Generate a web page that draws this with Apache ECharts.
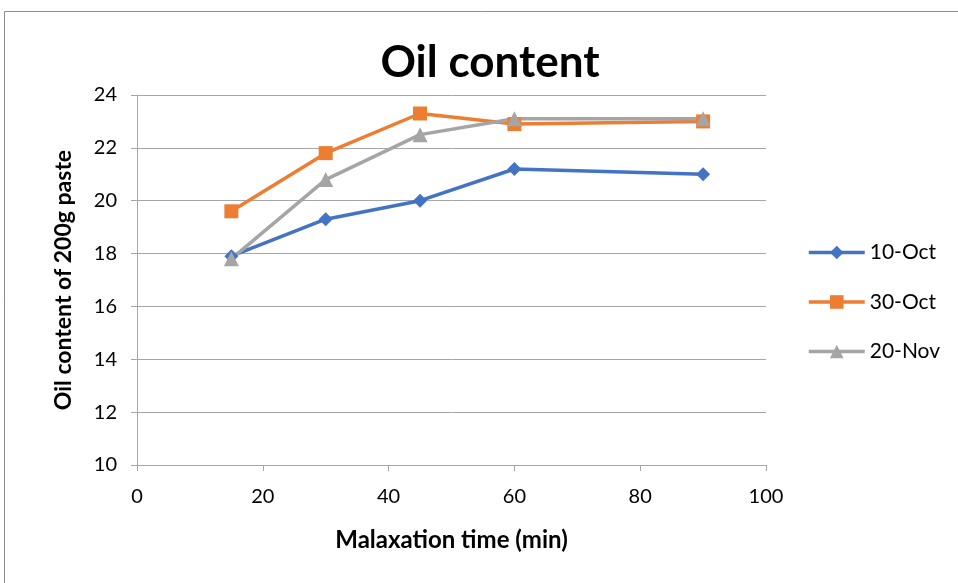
<!DOCTYPE html>
<html>
<head>
<meta charset="utf-8">
<style>
  html, body { margin: 0; padding: 0; background: #fff; }
  #chart { width: 958px; height: 583px; }
</style>
<script src="https://cdn.jsdelivr.net/npm/echarts@6/dist/echarts.min.js"></script>
</head>
<body>
<div id="chart"></div>
<script>
// Malaxation time (min) and oil content per harvest date
const times = [15, 30, 45, 60, 90];
const oct10 = [17.9, 19.3, 20.0, 21.2, 21.0];
const oct30 = [19.6, 21.8, 23.3, 22.9, 23.0];
const nov20 = [17.8, 20.8, 22.5, 23.1, 23.1];
const seriesNames = ['10-Oct', '30-Oct', '20-Nov'];
const colors = ['#4472c4', '#ed7d31', '#a5a5a5'];

const FONT = 'Lato, "Open Sans", sans-serif';
const pair = arr => times.map((t, i) => [t, arr[i]]);

const chart = echarts.init(document.getElementById('chart'));
chart.setOption({
  animation: false,
  textStyle: { fontFamily: FONT },
  title: {
    text: 'Oil content',
    left: 485, top: 36,
    textAlign: 'center',
    textStyle: { fontSize: 44, fontWeight: 'bold', color: '#000', fontFamily: FONT }
  },
  graphic: [{
    type: 'rect',
    shape: { x: 4.5, y: 11.5, width: 980, height: 620 },
    style: { fill: 'none', stroke: '#8c8c8c', lineWidth: 1 },
    silent: true
  }],
  legend: {
    orient: 'vertical',
    left: 802, top: 237,
    itemWidth: 56, itemHeight: 17, itemGap: 28.5,
    lineStyle: { width: 3.5 },
    textStyle: { fontSize: 21, color: '#000', fontFamily: FONT },
    data: seriesNames
  },
  grid: { left: 137, right: 192, top: 95, bottom: 118 },
  xAxis: {
    type: 'value', min: 0, max: 100, interval: 20,
    name: 'Malaxation time (min)', nameLocation: 'middle', nameGap: 63,
    nameTextStyle: { fontSize: 24, fontWeight: 'bold', color: '#000', fontFamily: FONT },
    axisLine: { lineStyle: { color: '#a6a6a6', width: 1 } },
    axisTick: { show: true, length: 6, lineStyle: { color: '#a6a6a6' } },
    axisLabel: { fontSize: 20, color: '#000', margin: 22, fontFamily: FONT },
    splitLine: { show: false }
  },
  yAxis: {
    type: 'value', min: 10, max: 24, interval: 2,
    name: 'Oil content of 200g paste', nameLocation: 'middle', nameGap: 62, nameRotate: 90,
    nameTextStyle: { fontSize: 23, fontWeight: 'bold', color: '#000', fontFamily: FONT },
    axisLine: { show: true, lineStyle: { color: '#a6a6a6', width: 1 } },
    axisTick: { show: true, length: 6, lineStyle: { color: '#a6a6a6' } },
    axisLabel: { fontSize: 20, color: '#000', margin: 20, fontFamily: FONT },
    splitLine: { lineStyle: { color: '#a6a6a6', width: 1 } }
  },
  series: [
    {
      name: seriesNames[0], type: 'line', data: pair(oct10),
      symbol: 'diamond', symbolSize: 14,
      lineStyle: { color: colors[0], width: 3.5 }, itemStyle: { color: colors[0] }
    },
    {
      name: seriesNames[1], type: 'line', data: pair(oct30),
      symbol: 'rect', symbolSize: 14,
      lineStyle: { color: colors[1], width: 3.5 }, itemStyle: { color: colors[1] }
    },
    {
      name: seriesNames[2], type: 'line', data: pair(nov20),
      symbol: 'triangle', symbolSize: 15,
      lineStyle: { color: colors[2], width: 3.5 }, itemStyle: { color: colors[2] }
    }
  ]
});
</script>
</body>
</html>
